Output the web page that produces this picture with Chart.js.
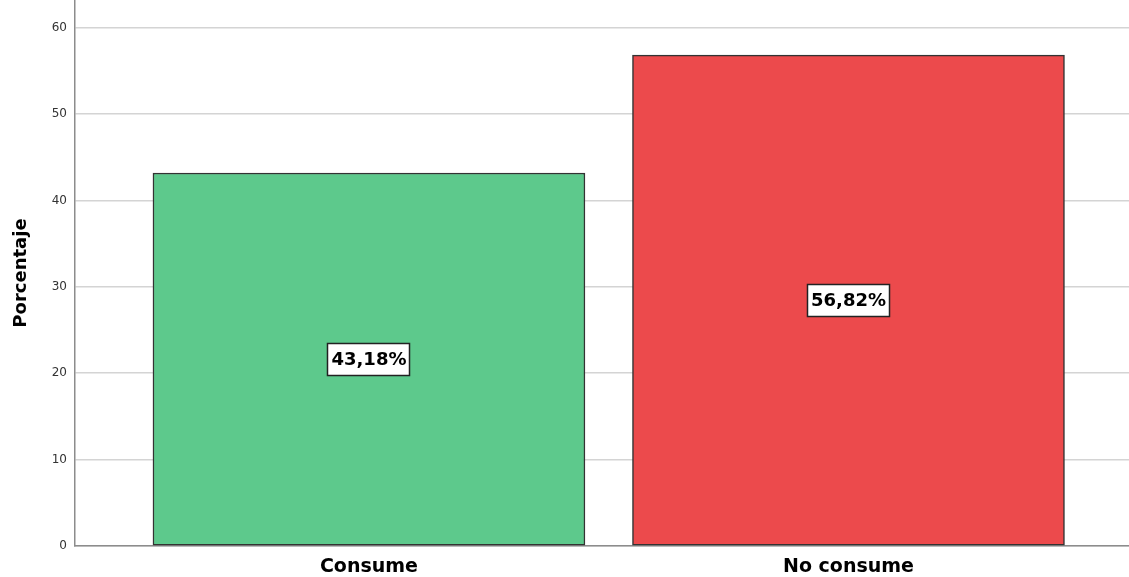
<!DOCTYPE html>
<html>
<head>
<meta charset="utf-8">
<script src="https://cdn.jsdelivr.net/npm/chart.js@4"></script>
<style>
    html, body { margin: 0; padding: 0; background: #fff; }
    #wrap { width: 1129px; height: 577px; position: relative; }
</style>
</head>
<body>
<div id="wrap"><canvas id="chart"></canvas></div>
<script>
    var categories = ['Consume', 'No consume'];
    var percentages = [43.18, 56.82];
    var valueLabels = ['43,18%', '56,82%'];
    var barColors = ['#5dc98c', '#ec4a4c'];
    var yTicks = [0, 10, 20, 30, 40, 50, 60];

    // caja blanca con el porcentaje en el centro de cada barra
    var boxLabels = {
        id: 'boxLabels',
        afterDatasetsDraw: function (chart) {
            var ctx = chart.ctx;
            var meta = chart.getDatasetMeta(0);
            ctx.save();
            ctx.font = 'bold 18px "DejaVu Sans"';
            ctx.textAlign = 'center';
            ctx.textBaseline = 'middle';
            meta.data.forEach(function (bar, i) {
                var cy = Math.round((bar.y + bar.base) / 2);
                var w = Math.round(ctx.measureText(valueLabels[i]).width + 8);
                var h = 33;
                var x0 = Math.round(bar.x - w / 2), y0 = Math.round(cy - h / 2);
                ctx.fillStyle = '#fff';
                ctx.fillRect(x0, y0, w, h);
                ctx.strokeStyle = '#222';
                ctx.lineWidth = 1.5;
                ctx.strokeRect(x0 + 0.5, y0 + 0.5, w - 1, h - 1);
                ctx.fillStyle = '#000';
                ctx.fillText(valueLabels[i], bar.x, cy + 1);
            });
            ctx.restore();
        }
    };

    new Chart(document.getElementById('chart'), {
        type: 'bar',
        data: {
            datasets: [{
                data: percentages.map(function (v, i) { return { x: i, y: v }; }),
                backgroundColor: barColors,
                borderColor: '#333',
                borderWidth: 1.5,
                borderSkipped: false,
                barThickness: 432
            }]
        },
        options: {
            responsive: true,
            maintainAspectRatio: false,
            animation: false,
            layout: { padding: 0 },
            plugins: {
                legend: { display: false },
                tooltip: { enabled: false }
            },
            scales: {
                x: {
                    type: 'linear',
                    offset: false,
                    min: -0.613,
                    max: 1.585,
                    afterBuildTicks: function (scale) {
                        scale.ticks = categories.map(function (c, i) { return { value: i }; });
                    },
                    afterFit: function (scale) {
                        scale.height = 31;
                        scale.paddingLeft = 0;
                        scale.paddingRight = 0;
                    },
                    grid: { display: false, drawTicks: false, offset: false },
                    border: { display: true, color: '#8c8c8c', width: 1.5 },
                    ticks: {
                        padding: 10,
                        color: '#000',
                        font: { family: 'DejaVu Sans', size: 19, weight: 'bold' },
                        callback: function (v) { return categories[v]; }
                    }
                },
                y: {
                    min: 0,
                    max: 63.2,
                    afterBuildTicks: function (scale) {
                        scale.ticks = yTicks.map(function (v) { return { value: v }; });
                    },
                    afterFit: function (scale) {
                        scale.width = 75;
                        scale.paddingTop = 0;
                        scale.paddingBottom = 0;
                    },
                    grid: { color: '#d4d4d4', lineWidth: 1.5, drawTicks: false },
                    border: { display: true, color: '#8c8c8c', width: 1.5 },
                    ticks: {
                        padding: 8,
                        color: '#333',
                        font: { family: 'DejaVu Sans', size: 12 }
                    },
                    title: {
                        display: true,
                        text: 'Porcentaje',
                        color: '#000',
                        padding: { top: 11, bottom: 0 },
                        font: { family: 'DejaVu Sans', size: 18, weight: 'bold' }
                    }
                }
            }
        },
        plugins: [boxLabels]
    });
</script>
</body>
</html>
